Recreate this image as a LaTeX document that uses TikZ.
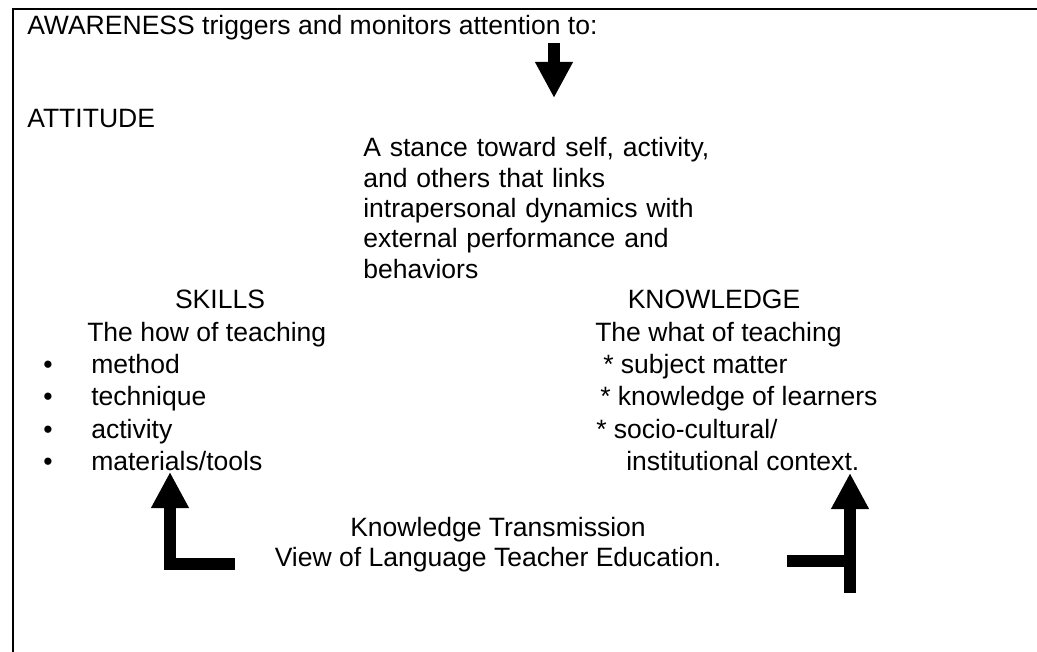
\documentclass[tikz,border=0pt]{standalone}
\usepackage{fontspec}
\setmainfont{Liberation Sans}
\usetikzlibrary{arrows.meta,positioning}

\tikzset{
  txt/.style={inner sep=0pt,anchor=base west,font=\fontsize{19.9pt}{22.7pt}\selectfont},
  fatarrow/.style={line width=8.5pt,line join=miter,-{Triangle[length=27pt,width=26.5pt]}},
}

\begin{document}
\begin{tikzpicture}[x=0.75pt,y=-0.75pt]
  \useasboundingbox (0,0) rectangle (1037,652);

  % open frame, left and top sides only
  \draw[line width=1.6pt] (12.7,652) -- (12.7,9) -- (1037,9);

  \node (aw)  [txt] at (27,35)  {AWARENESS triggers and monitors attention to:};
  \node (att) [txt] at (27,128) {ATTITUDE};
  \node (stance) [txt,anchor=north west,text width=300pt,align=left] at (363,137.5)
    {A stance toward self, activity,\\and others that links\\intrapersonal dynamics with\\external performance and\\behaviors};

  % skills column
  \node (S0) [txt,anchor=base] at (220,308) {SKILLS};
  \node (S1) [txt] at (87,341) {The how of teaching};
  \node (b1) [txt,anchor=base] at (48,373) {•};
  \node (b2) [txt,anchor=base] at (48,405) {•};
  \node (b3) [txt,anchor=base] at (48,438) {•};
  \node (b4) [txt,anchor=base] at (48,470) {•};
  \node (S2) [txt] at (91,373) {method};
  \node (S3) [txt] at (91,405) {technique};
  \node (S4) [txt] at (91,438) {activity};
  \node (S5) [txt] at (91,470) {materials/tools};

  % knowledge column
  \node (K0) [txt,anchor=base] at (714,308) {KNOWLEDGE};
  \node (K1) [txt] at (595,341) {The what of teaching};
  \node (K2) [txt] at (603,373) {* subject matter};
  \node (K3) [txt] at (600,405) {* knowledge of learners};
  \node (K4) [txt] at (596,438) {* socio-cultural/};
  \node (K5) [txt] at (626,470) {institutional context.};

  \node (T0) [txt,anchor=base] at (498,536) {Knowledge Transmission};
  \node (T1) [txt,anchor=base] at (498,566) {View of Language Teacher Education.};

  % arrows
  \coordinate (awTail) at (554,43);
  \coordinate (awTip)  at (554,98);
  \coordinate (skFoot) at (235,564);
  \coordinate (skTip)  at (170,472);
  \coordinate (knTail) at (850,593);
  \coordinate (knTip)  at (850,473);
  \coordinate (knBar)  at (787,561);

  \draw[fatarrow] (awTail) -- (awTip);
  \draw[fatarrow] (skFoot) -| (skTip);
  \draw[fatarrow] (knTail) -- (knTip);
  \draw[line width=9pt] (knBar) -- (knBar -| knTip);
\end{tikzpicture}
\end{document}
